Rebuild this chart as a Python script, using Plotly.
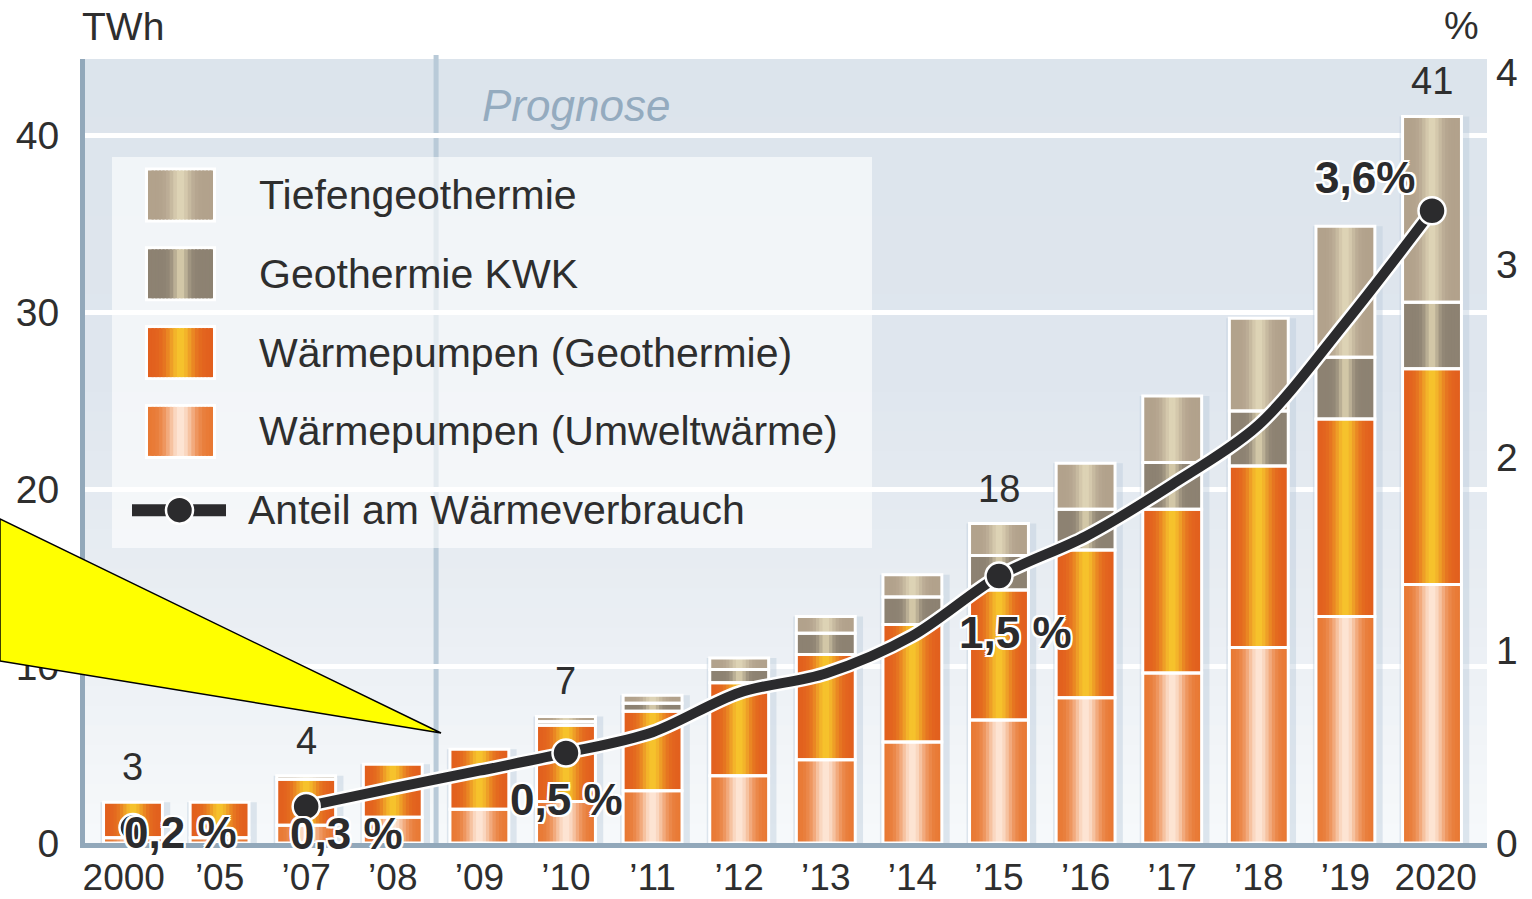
import math
import plotly.graph_objects as go

# ---------------- data ----------------
years = ["2000", "’05", "’07", "’08", "’09", "’10", "’11", "’12", "’13",
         "’14", "’15", "’16", "’17", "’18", "’19", "2020"]
umwelt = [0.3, 0.3, 1.0, 1.45, 1.9, 2.35, 2.95, 3.8, 4.7, 5.7, 6.95, 8.2, 9.6, 11.05, 12.8, 14.6]
geo = [2.0, 2.0, 2.6, 3.0, 3.4, 4.3, 4.5, 5.25, 5.95, 6.65, 7.35, 8.35, 9.25, 10.25, 11.15, 12.2]
kwk = [0, 0, 0, 0, 0, 0.2, 0.45, 0.75, 1.2, 1.55, 1.95, 2.3, 2.65, 3.1, 3.5, 3.75]
tiefen = [0, 0, 0.2, 0, 0, 0.3, 0.45, 0.65, 0.95, 1.25, 1.8, 2.6, 3.75, 5.25, 7.4, 10.5]
anteil = [0.08, None, 0.19, 0.285, 0.375, 0.467, 0.575, 0.78, 0.88, 1.075,
          1.385, 1.59, 1.86, 2.17, 2.7, 3.28]
marker_idx = [0, 2, 5, 10, 15]
total_label_idx = [0, 2, 5, 10, 15]
total_labels = ["3", "4", "7", "18", "41"]
pct_label_idx = [0, 2, 5, 10, 15]
pct_labels = ["0,2 %", "0,3 %", "0,5 %", "1,5 %", "3,6%"]
left_ticks = [0, 10, 20, 30, 40]
right_ticks = [0, 1, 2, 3, 4]
legend_labels = ["Tiefengeothermie", "Geothermie KWK", "Wärmepumpen (Geothermie)",
                 "Wärmepumpen (Umweltwärme)", "Anteil am Wärmeverbrauch"]

# ---------------- styling ----------------
FONT = "Liberation Sans, Arial, Helvetica, sans-serif"
TXT = "#2e2e2e"
AXC = "#92a8ba"
DARK = "#2b2b2d"
W = 0.68
NS = 18

# (edge rgb, centre rgb, highlight width)
STY = {
    "Tiefengeothermie": ((178, 162, 140), (222, 212, 182), 0.16),
    "Geothermie KWK": ((141, 130, 114), (214, 203, 170), 0.12),
    "Wärmepumpen (Geothermie)": ((226, 96, 30), (246, 196, 44), 0.2),
    "Wärmepumpen (Umweltwärme)": ((232, 120, 50), (253, 230, 214), 0.22),
}


def grad(name, t):
    e, m, s = STY[name]
    f = math.exp(-((t - 0.5) / s) ** 2)
    c = [round(e[k] + (m[k] - e[k]) * f) for k in range(3)]
    return "rgb(%d,%d,%d)" % tuple(c)


# plot geometry in pixels (figure 1532 x 899)
PL, PT, PW, PH = 85, 59, 1402, 784
FIG_W, FIG_H = 1532, 899


def px(xp):
    return (xp - PL) / PW


def py(yp):
    return (PT + PH - yp) / PH


xs = list(range(len(years)))
tick_text = [("2000\u2002" if y == "2000" else ("\u20092020" if y == "2020" else y)) for y in years]
totals = [a + b + c + d for a, b, c, d in zip(umwelt, geo, kwk, tiefen)]

fig = go.Figure()

# bar "shadow" columns
fig.add_trace(go.Bar(x=xs, y=totals, base=0, width=W + 0.125, offset=-W / 2 - 0.035,
                     marker=dict(color="rgba(188,203,219,0.45)", line=dict(width=0)),
                     hoverinfo="skip"))

series = [("Wärmepumpen (Umweltwärme)", umwelt), ("Wärmepumpen (Geothermie)", geo),
          ("Geothermie KWK", kwk), ("Tiefengeothermie", tiefen)]
base = [0.0] * len(xs)
outlines = []
for name, vals in series:
    b = list(base)
    sw = W / NS
    for i in range(NS):
        t = (i + 0.5) / NS
        wi = sw * 1.6 if i < NS - 1 else sw
        fig.add_trace(go.Bar(x=xs, y=vals, base=b, width=wi, offset=-W / 2 + i * sw,
                             marker=dict(color=grad(name, t), line=dict(width=0)),
                             name=name, hoverinfo="skip"))
    outlines.append(go.Bar(x=xs, y=[v if v > 0 else None for v in vals], base=b,
                           width=W, offset=-W / 2,
                           marker=dict(color="rgba(0,0,0,0)", line=dict(color="white", width=3)),
                           hoverinfo="skip"))
    base = [p + q for p, q in zip(base, vals)]
for o in outlines:
    fig.add_trace(o)

# share line with white halo
fig.add_trace(go.Scatter(x=xs, y=anteil, yaxis="y2", mode="lines",
                         line=dict(color="white", width=15, shape="spline", smoothing=0.9),
                         hoverinfo="skip"))
fig.add_trace(go.Scatter(x=xs, y=anteil, yaxis="y2", mode="lines",
                         line=dict(color=DARK, width=10, shape="spline", smoothing=0.9),
                         name=legend_labels[4], hoverinfo="skip"))
fig.add_trace(go.Scatter(x=[xs[i] for i in marker_idx], y=[anteil[i] for i in marker_idx],
                         yaxis="y2", mode="markers",
                         marker=dict(size=27, color=DARK, line=dict(color="white", width=2.5)),
                         hoverinfo="skip"))

shapes = []
# background vertical gradient
stops = [(0.0, (247, 249, 251)), (0.3, (233, 238, 243)), (0.6, (223, 230, 238)), (1.0, (220, 228, 236))]


def bgcol(v):
    for (a, ca), (bb, cb) in zip(stops[:-1], stops[1:]):
        if a <= v <= bb:
            f = (v - a) / (bb - a)
            return "rgb(%d,%d,%d)" % tuple(round(ca[k] + (cb[k] - ca[k]) * f) for k in range(3))
    return "rgb(%d,%d,%d)" % stops[-1][1]


NB = 40
for i in range(NB):
    y0 = i / NB
    y1 = min(1.0, (i + 1.3) / NB)
    shapes.append(dict(type="rect", xref="paper", yref="paper", x0=0, x1=1, y0=y0, y1=y1,
                       fillcolor=bgcol((i + 0.5) / NB), line=dict(width=0), layer="below"))

# divider between history and forecast
shapes.append(dict(type="line", xref="x", yref="paper", x0=3.5, x1=3.5, y0=0, y1=1.005,
                   line=dict(color="#b9cad8", width=5), layer="below"))

# legend box
shapes.append(dict(type="rect", xref="paper", yref="paper", x0=px(112), x1=px(872),
                   y0=py(548), y1=py(157), fillcolor="rgba(255,255,255,0.6)",
                   line=dict(width=0), layer="between"))

row0, rstep = 195, 78.8
sw_x0, sw_x1, sw_h = 148, 213, 49
for r, name in enumerate(legend_labels[:4]):
    yc = row0 + r * rstep
    shapes.append(dict(type="rect", xref="paper", yref="paper", x0=px(sw_x0 - 3), x1=px(sw_x1 + 3),
                       y0=py(yc + sw_h / 2 + 3), y1=py(yc - sw_h / 2 - 3),
                       fillcolor="white", line=dict(width=0), layer="between"))
    sww = (sw_x1 - sw_x0) / NS
    for i in range(NS):
        t = (i + 0.5) / NS
        xa = sw_x0 + i * sww
        xb = xa + (sww * 1.6 if i < NS - 1 else sww)
        shapes.append(dict(type="rect", xref="paper", yref="paper", x0=px(xa), x1=px(xb),
                           y0=py(yc + sw_h / 2), y1=py(yc - sw_h / 2),
                           fillcolor=grad(name, t), line=dict(width=0), layer="between"))
yl = row0 + 4 * rstep
shapes.append(dict(type="line", xref="paper", yref="paper", x0=px(132), x1=px(226),
                   y0=py(yl), y1=py(yl), line=dict(color=DARK, width=12), layer="between"))
shapes.append(dict(type="circle", xref="paper", yref="paper", x0=px(166), x1=px(193),
                   y0=py(yl + 13.5), y1=py(yl - 13.5), fillcolor=DARK,
                   line=dict(color="white", width=2.5), layer="between"))

# yellow callout
p = [(0, 519), (441, 733), (0, 661)]
path = "M %f %f L %f %f L %f %f Z" % (px(p[0][0]), py(p[0][1]), px(p[1][0]), py(p[1][1]),
                                       px(p[2][0]), py(p[2][1]))
shapes.append(dict(type="path", xref="paper", yref="paper", path=path, fillcolor="#ffff00",
                   line=dict(color="black", width=1.5), layer="above"))

ann = []
# legend text
for r, lab in enumerate(legend_labels):
    yc = row0 + r * rstep
    xl = 257 if r < 4 else 246
    ann.append(dict(text=lab, xref="paper", yref="paper", x=px(xl), y=py(yc), xanchor="left",
                    yanchor="middle", showarrow=False, font=dict(size=41, color=TXT, family=FONT)))

# totals above bars
for i, lab in zip(total_label_idx, total_labels):
    ann.append(dict(text=lab, x=xs[i], y=totals[i], xref="x", yref="y", xanchor="center",
                    yanchor="bottom", yshift=12, showarrow=False,
                    font=dict(size=38, color=TXT, family=FONT)))

# percentage labels
halo = ("white 2px 0px 0px, white -2px 0px 0px, white 0px 2px 0px, white 0px -2px 0px, "
        "white 2px 2px 0px, white -2px -2px 0px, white 2px -2px 0px, white -2px 2px 0px")
pct_shift = [(48, -5), (40, -27), (1, -47), (16, -56), (-67, 33)]
for i, lab, (dx, dy) in zip(pct_label_idx, pct_labels, pct_shift):
    ann.append(dict(text=lab, x=xs[i], y=anteil[i], xref="x", yref="y2", xanchor="center",
                    yanchor="middle", xshift=dx, yshift=dy, showarrow=False,
                    font=dict(size=44, color=DARK, family=FONT, weight="bold", shadow=halo)))

# axis titles & Prognose
ann.append(dict(text="TWh", xref="paper", yref="paper", x=0, y=1, xanchor="left", yanchor="middle",
                xshift=-5, yshift=33, showarrow=False, font=dict(size=39, color=TXT, family=FONT)))
ann.append(dict(text="%", xref="paper", yref="paper", x=1, y=1, xanchor="center", yanchor="middle",
                xshift=-26, yshift=34, showarrow=False, font=dict(size=39, color=TXT, family=FONT)))
ann.append(dict(text="Prognose", xref="x", yref="paper", x=3.5, y=1, xanchor="left",
                yanchor="middle", xshift=44, yshift=-46, showarrow=False,
                font=dict(size=44, color="#94abbf", family=FONT, style="italic")))

fig.update_layout(
    width=FIG_W, height=FIG_H,
    margin=dict(l=PL, r=FIG_W - PL - PW, t=PT, b=FIG_H - PT - PH, pad=0, autoexpand=False),
    paper_bgcolor="white", plot_bgcolor="#e4eaf0",
    barmode="overlay", showlegend=False,
    font=dict(family=FONT, size=39, color=TXT),
    shapes=shapes, annotations=ann,
    xaxis=dict(range=[-0.554, 15.635], tickvals=xs, ticktext=tick_text, showgrid=False,
               zeroline=False, showline=True, linecolor=AXC, linewidth=5, ticks="",
               automargin=False, ticklabelstandoff=-2, tickfont=dict(size=37, color=TXT),
               fixedrange=True),
    yaxis=dict(range=[0, PH / 17.7], tickvals=left_ticks, showgrid=True, gridcolor="white",
               gridwidth=5, zeroline=False, showline=True, linecolor=AXC, linewidth=5,
               ticks="", automargin=False, ticklabelstandoff=13,
               tickfont=dict(size=39, color=TXT), fixedrange=True),
    yaxis2=dict(range=[0, PH / 192.75], tickvals=right_ticks, overlaying="y", side="right",
                showgrid=False, zeroline=False, showline=False, ticks="", automargin=False,
                ticklabelstandoff=8, tickfont=dict(size=39, color=TXT), fixedrange=True),
)

fig.write_html("out.html", config={"displayModeBar": False},
               post_script="document.body.style.margin='0';document.body.style.overflow='hidden';")
